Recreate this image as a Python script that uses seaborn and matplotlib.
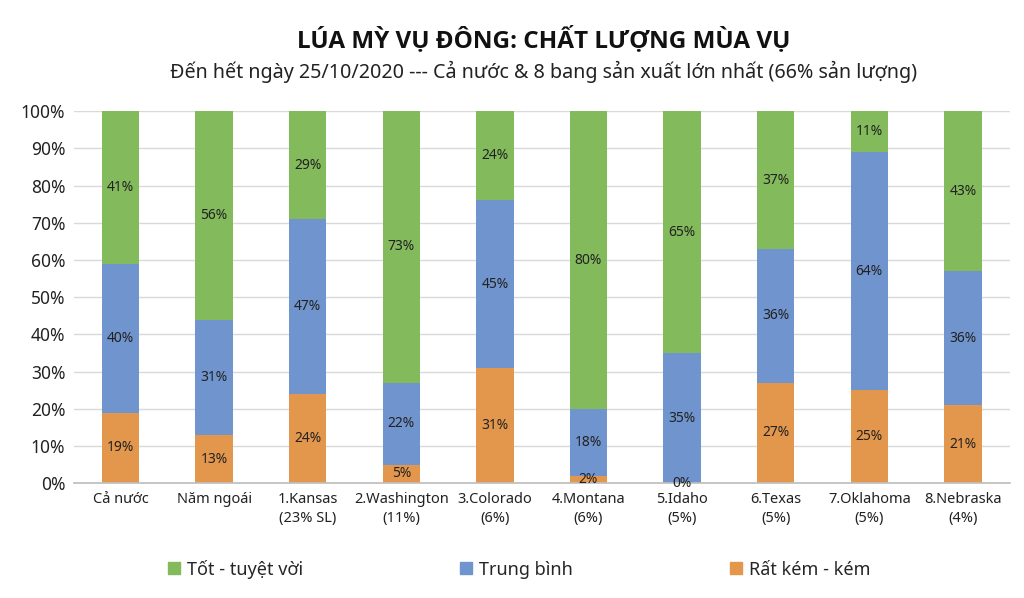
import numpy as np
import pandas as pd
import matplotlib
matplotlib.use("Agg")
import matplotlib.pyplot as plt
import seaborn as sns
from matplotlib.patches import Patch

categories = ["Cả nước", "Năm ngoái", "1.Kansas\n(23% SL)", "2.Washington\n(11%)",
              "3.Colorado\n(6%)", "4.Montana\n(6%)", "5.Idaho\n(5%)", "6.Texas\n(5%)",
              "7.Oklahoma\n(5%)", "8.Nebraska\n(4%)"]
poor = [19, 13, 24, 5, 31, 2, 0, 27, 25, 21]
fair = [40, 31, 47, 22, 45, 18, 35, 36, 64, 36]
good = [41, 56, 29, 73, 24, 80, 65, 37, 11, 43]
series_names = ["Tốt - tuyệt vời", "Trung bình", "Rất kém - kém"]
title = "LÚA MỲ VỤ ĐÔNG: CHẤT LƯỢNG MÙA VỤ"
subtitle = "Đến hết ngày 25/10/2020 --- Cả nước & 8 bang sản xuất lớn nhất (66% sản lượng)"

c_good = "#83BA5B"
c_fair = "#7094CD"
c_poor = "#E3974C"

sns.set_theme(style="white")
plt.rcParams['font.family'] = ['Noto Sans', 'DejaVu Sans']

df = pd.DataFrame({"cat": categories, "poor": poor, "fair": fair, "good": good})
df["c2"] = df["poor"] + df["fair"]
df["c3"] = df["c2"] + df["good"]

fig = plt.figure(figsize=(10.24, 5.98), dpi=100)
ax = fig.add_axes([0.072, 0.192, 0.914, 0.622])

for col, colr in [("c3", c_good), ("c2", c_fair), ("poor", c_poor)]:
    sns.barplot(data=df, x="cat", y=col, color=colr, width=0.4, ax=ax,
                saturation=1, zorder=3, linewidth=0, edgecolor="none")

for i, row in df.iterrows():
    ax.text(i, row["poor"] / 2, f"{row['poor']}%", ha="center", va="center", fontsize=10, color="#222222", zorder=5)
    ax.text(i, row["poor"] + row["fair"] / 2, f"{row['fair']}%", ha="center", va="center", fontsize=10, color="#222222", zorder=5)
    ax.text(i, row["c2"] + row["good"] / 2, f"{row['good']}%", ha="center", va="center", fontsize=10, color="#222222", zorder=5)

ax.set_ylim(0, 100)
ax.set_xlim(-0.5, len(categories) - 0.5)
ax.set_yticks(np.arange(0, 101, 10))
ax.set_yticklabels([f"{v}%" for v in range(0, 101, 10)], fontsize=12.5, color="#222222")
ax.set_xticks(range(len(categories)))
ax.set_xticklabels(categories, fontsize=10.5, color="#222222", linespacing=1.4)
ax.set_xlabel("")
ax.set_ylabel("")
ax.yaxis.grid(True, color="#D9D9D9", linewidth=1, zorder=0)
ax.tick_params(axis="both", length=0, pad=6)
for s in ["top", "right", "left"]:
    ax.spines[s].set_visible(False)
ax.spines["bottom"].set_color("#BFBFBF")
ax.spines["bottom"].set_zorder(4)

fig.text(0.531, 0.933, title, ha="center", va="center", fontsize=17.5, fontweight="bold",
         family=["Open Sans", "DejaVu Sans"], color="#111111")
fig.text(0.531, 0.879, subtitle, ha="center", va="center", fontsize=14.2, color="#222222")

handles = [Patch(color=c_good), Patch(color=c_fair), Patch(color=c_poor)]
fig.legend(handles, series_names, loc="center", bbox_to_anchor=(0.507, 0.048), ncol=3,
           frameon=False, fontsize=13, handlelength=0.65, handleheight=0.65,
           handletextpad=0.4, columnspacing=8.7)

fig.savefig("out.png", dpi=100)
